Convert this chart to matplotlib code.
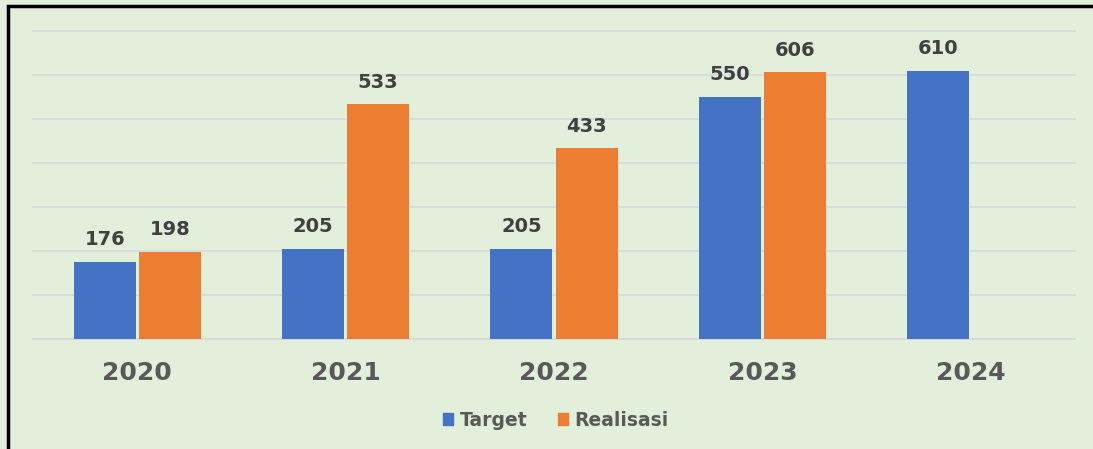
import matplotlib
matplotlib.use("Agg")
import matplotlib.pyplot as plt
from matplotlib.patches import Rectangle, Patch
import numpy as np

years = ["2020", "2021", "2022", "2023", "2024"]
target = [176, 205, 205, 550, 610]
realisasi = [198, 533, 433, 606, None]

BG = "#E2EFDA"
BLUE = "#4472C4"
ORANGE = "#ED7D31"
TXT = "#595959"
LBL = "#404040"
GRID = "#D9D9DF"

fig = plt.figure(figsize=(10.93, 4.49), dpi=100)
fig.patch.set_facecolor(BG)
ax = fig.add_axes([33/1093, 1-339/449, (1075-33)/1093, (339-31)/449])
ax.set_facecolor(BG)

x = np.arange(len(years))
w = 0.2975
off = 0.156
tx = x - off
ax.bar(tx, target, width=w, color=BLUE, zorder=3)
rx = [xi + off for xi, v in zip(x, realisasi) if v is not None]
rv = [v for v in realisasi if v is not None]
ax.bar(rx, rv, width=w, color=ORANGE, zorder=3)

for xi, v in zip(list(tx) + rx, target + rv):
    ax.annotate(str(v), (xi, v), xytext=(0, 9), textcoords="offset points",
                ha="center", va="bottom", fontsize=14, fontweight="bold", color=LBL)

ax.set_xlim(-0.5, len(years) - 0.5)
ax.set_ylim(0, 700)
ax.set_yticks(np.arange(0, 701, 100))
ax.yaxis.grid(True, color=GRID, linewidth=1.2, zorder=0)
for gl in ax.yaxis.get_gridlines():
    gl.set_clip_on(False)
ax.set_axisbelow(True)
ax.tick_params(axis="y", left=False, labelleft=False)
ax.set_xticks(x)
ax.set_xticklabels(years, fontsize=18, fontweight="bold", color=TXT)
ax.tick_params(axis="x", length=0, pad=16)
for s in ["top", "right", "left"]:
    ax.spines[s].set_visible(False)
ax.spines["bottom"].set_color(GRID)
ax.spines["bottom"].set_linewidth(1.2)

handles = [Patch(color=BLUE, label="Target"), Patch(color=ORANGE, label="Realisasi")]
leg = fig.legend(handles=handles, loc="center", bbox_to_anchor=(556/1093, 1-420/449),
                 ncol=2, frameon=False, handlelength=0.55, handleheight=0.55,
                 handletextpad=0.35, columnspacing=1.6,
                 prop={"size": 13.5, "weight": "bold"})
for t in leg.get_texts():
    t.set_color(TXT)

# black frame on top and left (cut off at right/bottom)
fig.patches.append(Rectangle((7.5/1093, -0.1), 1.2, 1.1 - 6.5/449,
                             transform=fig.transFigure, fill=False,
                             edgecolor="black", linewidth=2.5))
fig.savefig("out.png", dpi=100, facecolor=BG)
